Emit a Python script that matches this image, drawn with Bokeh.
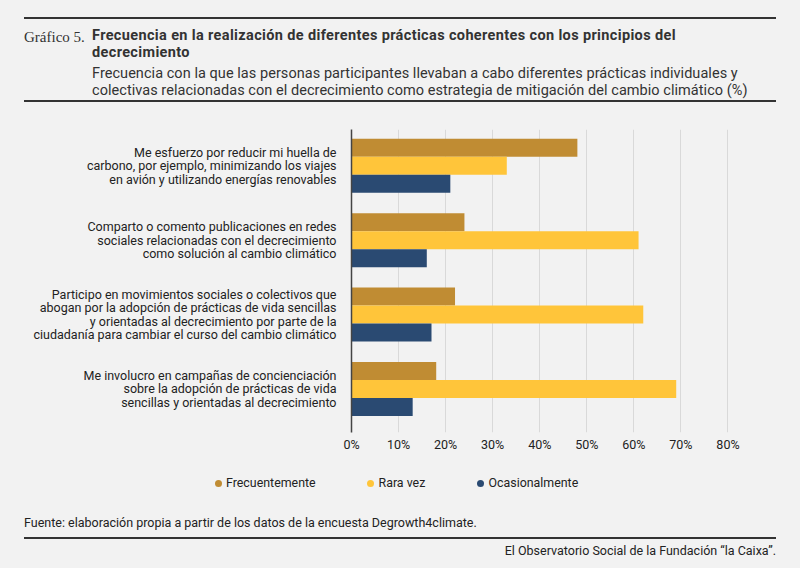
from bokeh.plotting import figure
from bokeh.layouts import column
from bokeh.models import Range1d, FixedTicker, PrintfTickFormatter, ColumnDataSource, Div
from bokeh.transform import dodge
from bokeh.embed import file_html
from bokeh.resources import INLINE

# ---------------- data ----------------
categories = [
    "Me esfuerzo por reducir mi huella de\ncarbono, por ejemplo, minimizando los viajes\nen avión y utilizando energías renovables",
    "Comparto o comento publicaciones en redes\nsociales relacionadas con el decrecimiento\ncomo solución al cambio climático",
    "Participo en movimientos sociales o colectivos que\nabogan por la adopción de prácticas de vida sencillas\ny orientadas al decrecimiento por parte de la\nciudadanía para cambiar el curso del cambio climático",
    "Me involucro en campañas de concienciación\nsobre la adopción de prácticas de vida\nsencillas y orientadas al decrecimiento",
]
series_names = ["Frecuentemente", "Rara vez", "Ocasionalmente"]
frecuentemente = [48, 24, 22, 18]
rara_vez = [33, 61, 62, 69]
ocasionalmente = [21, 16, 17, 13]
x_ticks = [0, 10, 20, 30, 40, 50, 60, 70, 80]

title_prefix = "Gráfico 5."
title_lines = ["Frecuencia en la realización de diferentes prácticas coherentes con los principios del",
               "decrecimiento"]
subtitle_lines = ["Frecuencia con la que las personas participantes llevaban a cabo diferentes prácticas individuales y",
                  "colectivas relacionadas con el decrecimiento como estrategia de mitigación del cambio climático (%)"]
source_text = "Fuente: elaboración propia a partir de los datos de la encuesta Degrowth4climate."
credit_text = "El Observatorio Social de la Fundación “la Caixa”."

# ---------------- style ----------------
BG = "#f2f2f2"
COLORS = ["#c08c33", "#ffc53a", "#2a4a72"]
TXT = "#222222"
DARK = "#333333"
FONT = "Roboto"
W = 800
TOP_H = 121
MAIN_H = 339
BOT_H = 568 - TOP_H - MAIN_H


def line_div(text, left, top, size, lh, extra=""):
    return (f'<div style="position:absolute;left:{left}px;top:{top}px;height:{lh}px;'
            f'font-size:{size}px;line-height:{lh}px;white-space:nowrap;{extra}">{text}</div>')


# ---------------- header (HTML) ----------------
head_parts = [
    f'<div style="position:absolute;left:24px;top:17px;width:752px;height:2px;background:{DARK};"></div>',
    line_div(title_prefix, 24, 28.5, 15, 16, "font-family:'Liberation Serif';"),
    line_div(title_lines[0], 92, 27, 14.5, 17, "font-weight:bold;letter-spacing:0.36px;"),
    line_div(title_lines[1], 92, 44.2, 14.5, 17, "font-weight:bold;letter-spacing:0.36px;"),
    line_div(subtitle_lines[0], 92, 64.5, 14.5, 17, "letter-spacing:0.05px;"),
    line_div(subtitle_lines[1], 92, 81.7, 14.5, 17, "letter-spacing:0.05px;"),
    f'<div style="position:absolute;left:24px;top:100px;width:752px;height:2px;background:{DARK};"></div>',
]
header_html = (f'<div style="position:relative;width:{W}px;height:{TOP_H}px;background:{BG};'
               f'font-family:{FONT};color:{DARK};overflow:hidden;">' + "".join(head_parts) + "</div>")
top = Div(text=header_html, width=W, height=TOP_H, styles={"margin": "0", "padding": "0"})

# ---------------- chart ----------------
n = len(categories)
ypos = [n - 1 - i for i in range(n)]
src = ColumnDataSource(dict(y=ypos, f=frecuentemente, r=rara_vez, o=ocasionalmente))

FL, FT, FW, FH = 351, 8, 400, 303
p = figure(width=W, height=MAIN_H, output_backend="svg", toolbar_location=None,
           x_range=Range1d(0, 85), y_range=Range1d(-0.585, n - 1 + 0.487),
           min_border_left=FL, min_border_top=FT,
           min_border_right=W - FL - FW, min_border_bottom=MAIN_H - FT - FH)
p.background_fill_color = BG
p.border_fill_color = BG
p.outline_line_color = None

bh = 0.242
for field, off, col in zip(["f", "r", "o"], [bh, 0, -bh], COLORS):
    p.hbar(y=dodge("y", off), right=field, left=0, height=bh, source=src,
           fill_color=col, line_color=None)

p.xaxis.ticker = FixedTicker(ticks=x_ticks)
p.xaxis.formatter = PrintfTickFormatter(format="%d%%")
p.xaxis.axis_line_color = None
p.xaxis.major_tick_line_color = None
p.xaxis.minor_tick_line_color = None
p.xaxis.major_tick_out = 0
p.xaxis.major_tick_in = 0
p.xaxis.major_label_standoff = 4
p.xaxis.major_label_text_font = FONT
p.xaxis.major_label_text_font_size = "12.5px"
p.xaxis.major_label_text_color = TXT

p.yaxis.ticker = FixedTicker(ticks=ypos)
p.yaxis.major_label_overrides = {int(y): c for y, c in zip(ypos, categories)}
p.yaxis.axis_line_color = "#444444"
p.yaxis.axis_line_width = 1.5
p.yaxis.major_tick_line_color = None
p.yaxis.minor_tick_line_color = None
p.yaxis.major_tick_out = 0
p.yaxis.major_tick_in = 0
p.yaxis.major_label_standoff = 15
p.yaxis.major_label_text_font = FONT
p.yaxis.major_label_text_font_size = "12.5px"
p.yaxis.major_label_text_color = TXT
p.yaxis.major_label_text_line_height = 0.9

p.xgrid.grid_line_color = "#d9d9d9"
p.xgrid.grid_line_width = 1
p.ygrid.grid_line_color = None

# ---------------- footer (HTML) ----------------
Y0 = TOP_H + MAIN_H
legend_dot_x = [218, 370.5, 480.5]
legend_text_x = [226, 378.5, 488.5]
foot_parts = []
for name, col, dx, tx in zip(series_names, COLORS, legend_dot_x, legend_text_x):
    foot_parts.append(f'<div style="position:absolute;left:{dx - 3.5}px;top:{483 - Y0 - 3.5}px;width:7px;height:7px;'
                      f'border-radius:50%;background:{col};"></div>')
    foot_parts.append(line_div(name, tx, 483 - Y0 - 8, 12.4, 16))
foot_parts.append(line_div(source_text, 24, 523 - Y0 - 8, 12.5, 16))
foot_parts.append(f'<div style="position:absolute;left:24px;top:{538 - Y0 - 1}px;width:752px;height:2px;background:{DARK};"></div>')
foot_parts.append(f'<div style="position:absolute;right:24px;top:{551 - Y0 - 8}px;height:16px;font-size:12.5px;'
                  f'line-height:16px;white-space:nowrap;">{credit_text}</div>')
footer_html = (f'<div style="position:relative;width:{W}px;height:{BOT_H}px;background:{BG};'
               f'font-family:{FONT};color:{TXT};overflow:hidden;">' + "".join(foot_parts) + "</div>")
bot = Div(text=footer_html, width=W, height=BOT_H, styles={"margin": "0", "padding": "0"})

layout = column(top, p, bot, spacing=0)

html = file_html(layout, INLINE)
html = html.replace("</head>", "<style>body{background:#f2f2f2;margin:0;}</style></head>", 1)
open("out.html", "w").write(html)
